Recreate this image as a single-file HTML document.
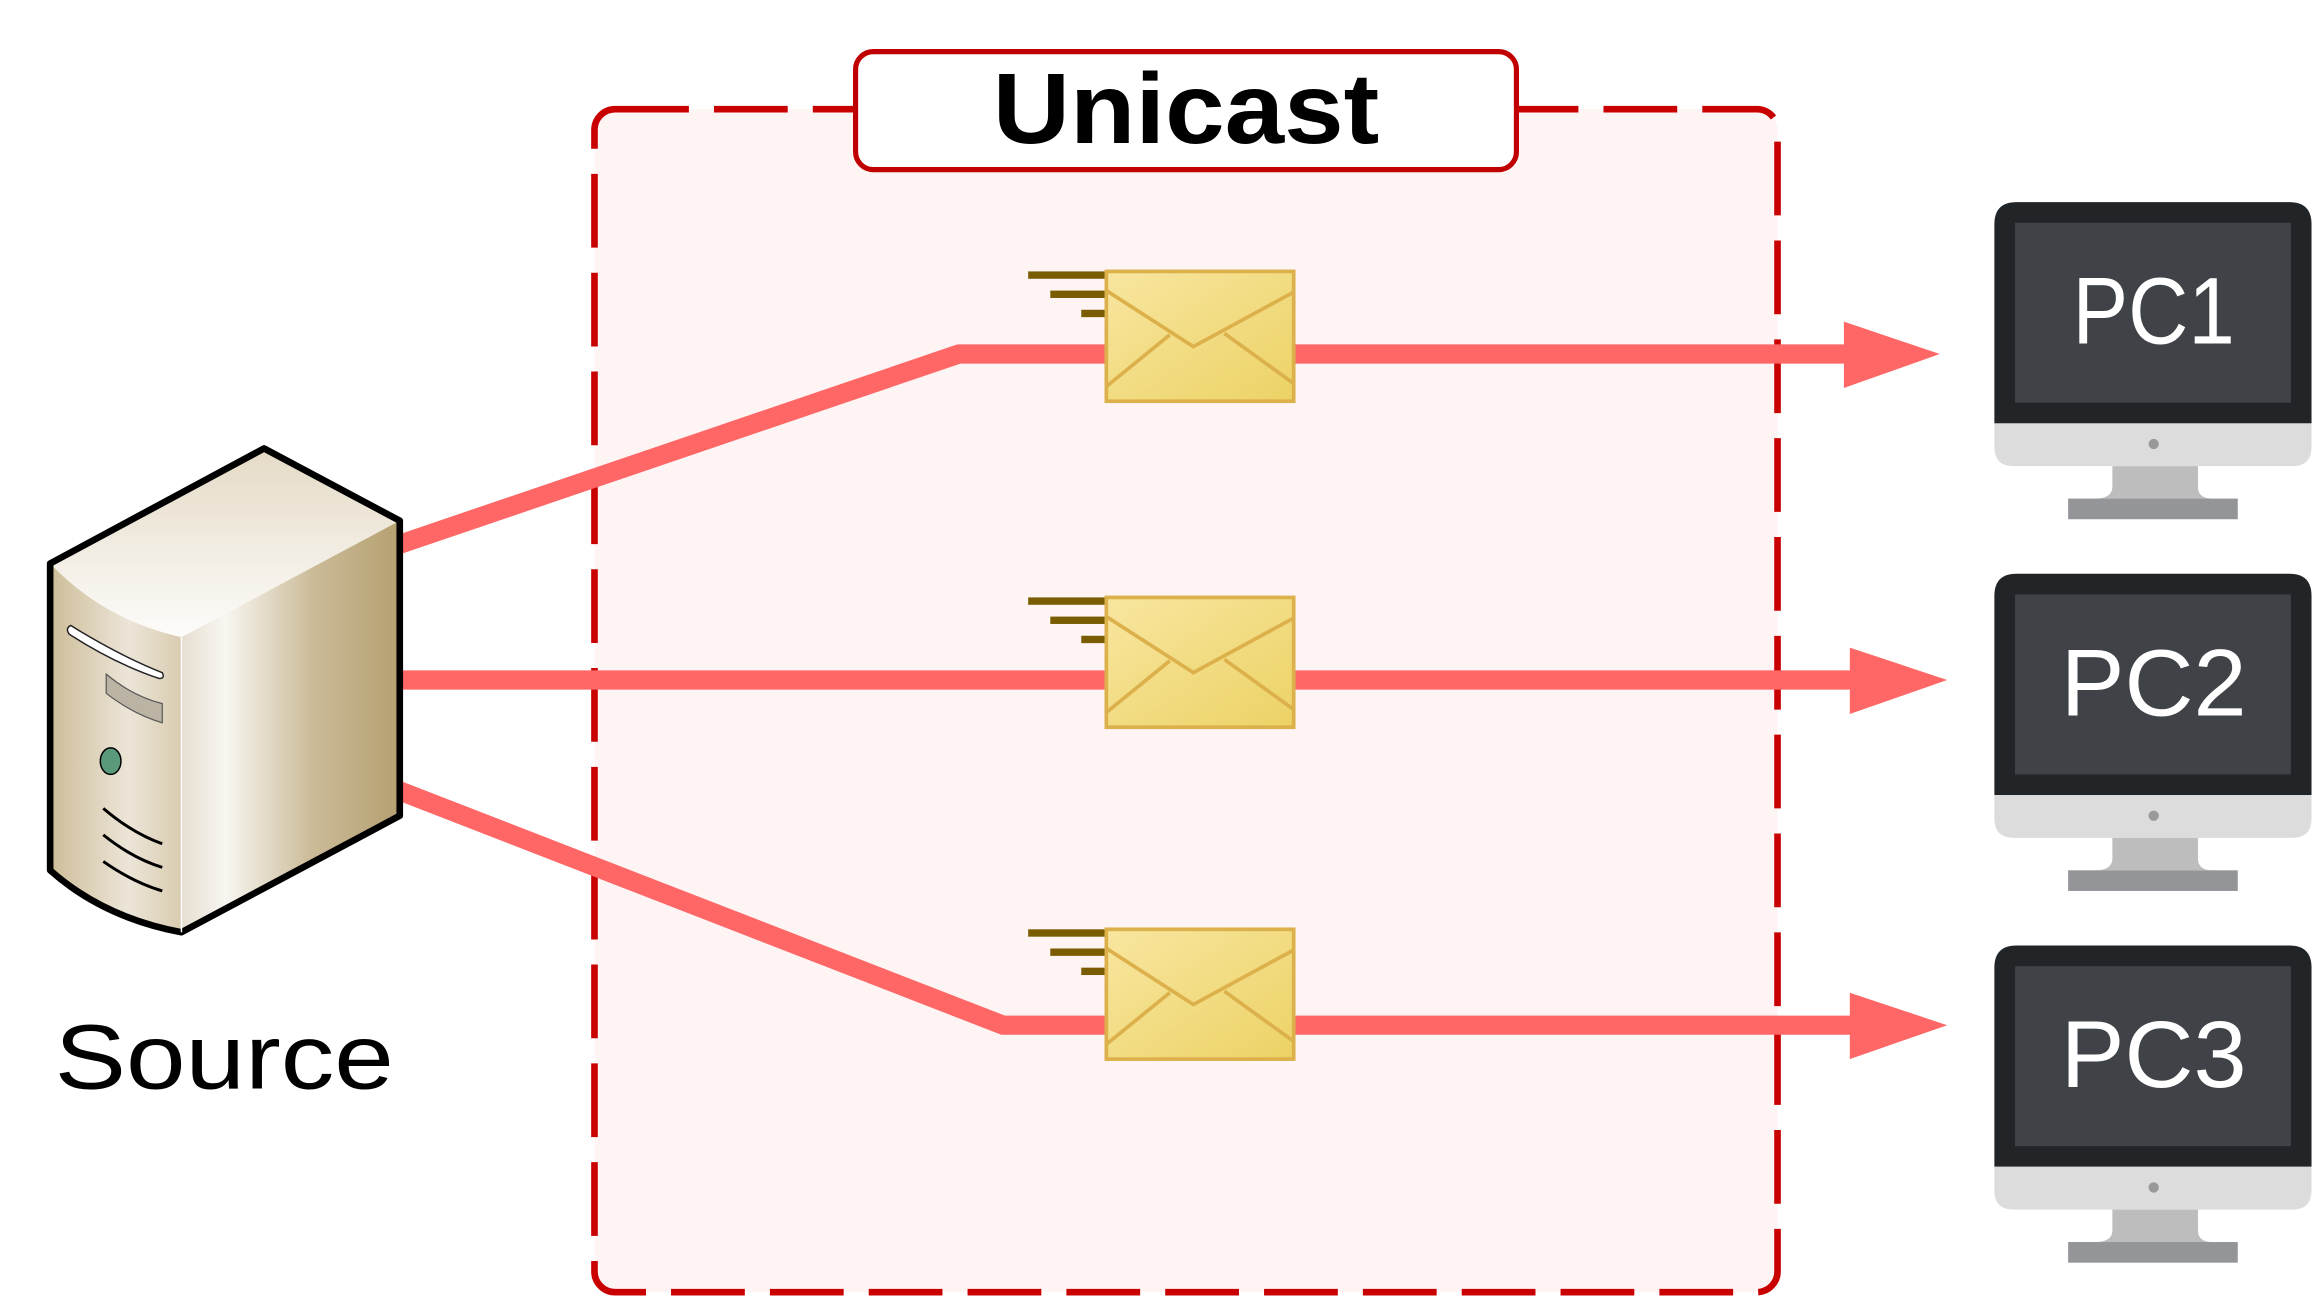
<!DOCTYPE html>
<html><head><meta charset="utf-8"><style>
html,body{margin:0;padding:0;background:#fff;width:2313px;height:1300px;overflow:hidden}
svg{display:block}
</style></head><body>
<svg width="2313" height="1300" viewBox="0 0 1568 881.3" preserveAspectRatio="none" xmlns="http://www.w3.org/2000/svg">
<defs>
<linearGradient id="front" x1="0" x2="1" y1="0" y2="0">
<stop offset="0" stop-color="#cdbd98"/><stop offset="0.6" stop-color="#ece5d8"/><stop offset="1" stop-color="#d8cbb0"/></linearGradient>
<linearGradient id="side" x1="0" x2="1" y1="0" y2="0">
<stop offset="0" stop-color="#e6ded0"/><stop offset="0.2" stop-color="#f8f6f1"/><stop offset="0.6" stop-color="#cbbb98"/><stop offset="1" stop-color="#b5a070"/></linearGradient>
<linearGradient id="top" x1="0" x2="0" y1="0" y2="1">
<stop offset="0" stop-color="#e4dac6"/><stop offset="1" stop-color="#fdfcfa"/></linearGradient>
<linearGradient id="env" x1="0" x2="1" y1="0" y2="1">
<stop offset="0" stop-color="#f8e6a0"/><stop offset="1" stop-color="#ecd265"/></linearGradient>
<g id="envg">
<rect x="697" y="0" width="52" height="5" fill="#7a5c00"/>
<rect x="712" y="13" width="37" height="5" fill="#7a5c00"/>
<rect x="733" y="26" width="16" height="5" fill="#7a5c00"/>
<rect x="750" y="0" width="127" height="88" fill="url(#env)" stroke="#dcb04a" stroke-width="2.5"/>
<path d="M750,13 L809,51 L877,14 M750,78 L793,43 M877,76 L830,42" fill="none" stroke="#dcb04a" stroke-width="2.5"/>
</g>
<g id="pc">
<path d="M1352,152 Q1352,137 1367,137 L1552,137 Q1567,137 1567,152 L1567,287 L1352,287 Z" fill="#222528"/>
<path d="M1352,287 L1567,287 L1567,303 Q1567,316 1554,316 L1365,316 Q1352,316 1352,303 Z" fill="#dcdcdc"/>
<rect x="1366" y="151" width="187" height="122" fill="#3f4347"/>
<circle cx="1460" cy="301" r="3.5" fill="#999"/>
<path d="M1432,316 L1490,316 L1490,330 Q1490,338 1500,338 L1420,338 Q1432,338 1432,330 Z" fill="#bdbdbd"/>
<rect x="1402" y="338" width="115" height="14" fill="#939598"/>
</g>
</defs>
<rect x="403" y="74" width="802" height="802" rx="14" fill="#fff4f4" stroke="#c80000" stroke-width="4.5" stroke-dasharray="50 17"/>
<rect x="580" y="35" width="448" height="80" rx="12" fill="#fff" stroke="#c00000" stroke-width="3.5"/>
<text x="673" y="97" textLength="262" lengthAdjust="spacingAndGlyphs" font-family="Liberation Sans, sans-serif" font-weight="bold" font-size="68" fill="#000">Unicast</text>
<g stroke="#ff6666" stroke-width="13" fill="none">
<polyline points="268,370 650,240 1255,240"/>
<polyline points="268,461 1260,461"/>
<polyline points="268,535 680,695 1260,695"/>
</g>
<g fill="#ff6666">
<polygon points="1250,218 1315,240 1250,263"/>
<polygon points="1254,439 1320,461 1254,484"/>
<polygon points="1254,673 1320,695 1254,718"/>
</g>
<use href="#envg" transform="translate(0,184)"/>
<use href="#envg" transform="translate(0,405)"/>
<use href="#envg" transform="translate(0,630)"/>
<use href="#pc"/>
<use href="#pc" transform="translate(0,252)"/>
<use href="#pc" transform="translate(0,504)"/>
<g font-family="Liberation Sans, sans-serif" font-size="64" fill="#fff">
<text x="1405" y="233" textLength="110" lengthAdjust="spacingAndGlyphs">PC1</text>
<text x="1397" y="485" textLength="126" lengthAdjust="spacingAndGlyphs">PC2</text>
<text x="1397" y="737" textLength="126" lengthAdjust="spacingAndGlyphs">PC3</text>
</g>
<!-- server -->
<path d="M34,382 L179,304 L271,353 L123,432 Q70,420 34,382 Z" fill="url(#top)"/>
<path d="M34,382 Q70,420 123,432 L123,632 Q70,622 34,590 Z" fill="url(#front)"/>
<path d="M123,432 L271,353 L271,553 L123,632 Z" fill="url(#side)"/>
<path d="M34,382 L179,304 L271,353 L271,553 L123,632 Q70,622 34,590 Z" fill="none" stroke="#000" stroke-width="4.5" stroke-linejoin="round"/>
<line x1="123" y1="432" x2="123" y2="632" stroke="#fff" stroke-width="1"/>
<path d="M48,424 Q80,444 110,456 Q112,460 108,460 Q78,450 47,430 Q44,426 48,424 Z" fill="#fff" stroke="#222" stroke-width="1"/>
<path d="M72,457 Q90,472 110,477 L110,490 Q90,484 72,470 Z" fill="#bbb4a4" stroke="#555" stroke-width="0.8"/>
<ellipse cx="75" cy="516" rx="7" ry="9" fill="#5a9a7a" stroke="#000" stroke-width="1"/>
<path d="M70,548 Q90,565 110,572 M70,566 Q90,582 110,588 M70,584 Q90,598 110,604" stroke="#000" stroke-width="2" fill="none"/>
<text x="37" y="738" textLength="230" lengthAdjust="spacingAndGlyphs" font-family="Liberation Sans, sans-serif" font-size="62" fill="#000">Source</text>
</svg>
</body></html>
